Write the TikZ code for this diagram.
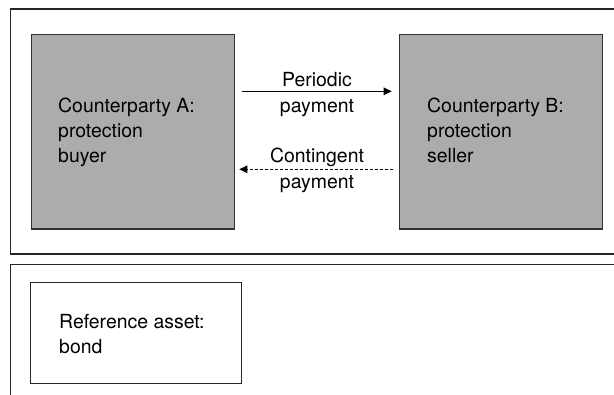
\documentclass[tikz,border=0pt]{standalone}
\usepackage{fontspec}
\setmainfont{TeX Gyre Heros}
\usetikzlibrary{arrows.meta}
\definecolor{boxgray}{RGB}{172,172,172}
\tikzset{
  frame/.style={line width=1.1bp, draw=black!85},
  party/.style={draw=black!80, line width=1.4bp, fill=boxgray},
  plainbox/.style={draw=black!85, line width=1.2bp},
  lbl/.style={inner sep=0pt, align=left, font=\fontsize{19.5}{25}\selectfont},
  clbl/.style={inner sep=0pt, align=center, font=\fontsize{19.5}{26}\selectfont},
  arr/.style={line width=1bp, -{Triangle[length=8bp,width=7.5bp]}},
  darr/.style={line width=1bp, dash pattern=on 3bp off 2bp, -{Triangle[length=8bp,width=7.5bp]}}
}
\begin{document}
\begin{tikzpicture}[x=1bp,y=-1bp]
\useasboundingbox (0,0) rectangle (614,394);
% outer frames (open to the right / bottom)
\draw[frame] (620,9) -- (10.7,9) -- (10.7,254) -- (620,254);
\draw[frame] (620,264.4) -- (10.7,264.4) -- (10.7,400);
% counterparties
\node[party, minimum width=203bp, minimum height=194.5bp, anchor=north west, inner sep=0pt] (A) at (30.7,33.8) {};
\node[party, minimum width=203bp, minimum height=194.5bp, anchor=north west, inner sep=0pt] (B) at (399,33.8) {};
% base anchor of a multi-line node = baseline of its last line
\node[lbl, anchor=base west] (Atext) at (58,162) {Counterparty A:\\protection\\buyer};
\node[lbl, anchor=base west] (Btext) at (427,162) {Counterparty B:\\protection\\seller};
% reference asset
\node[plainbox, minimum width=210.5bp, minimum height=101bp, anchor=north west, inner sep=0pt] (R) at (30.2,281.7) {};
\node[lbl, anchor=base west] (Rtext) at (59,353) {Reference asset:\\bond};
% flows
\coordinate (p1) at (241.7,91.3);
\coordinate (p2) at (391.7,91.3);
\coordinate (c1) at (393,169.3);
\coordinate (c2) at (239.3,169.3);
\draw[arr] (p1) -- (p2);
\draw[darr] (c1) -- (c2);
\node[clbl, anchor=base] (per) at (317,112) {Periodic\\payment};
\node[clbl, anchor=base] (con) at (317,188) {Contingent\\payment};
\end{tikzpicture}
\end{document}
